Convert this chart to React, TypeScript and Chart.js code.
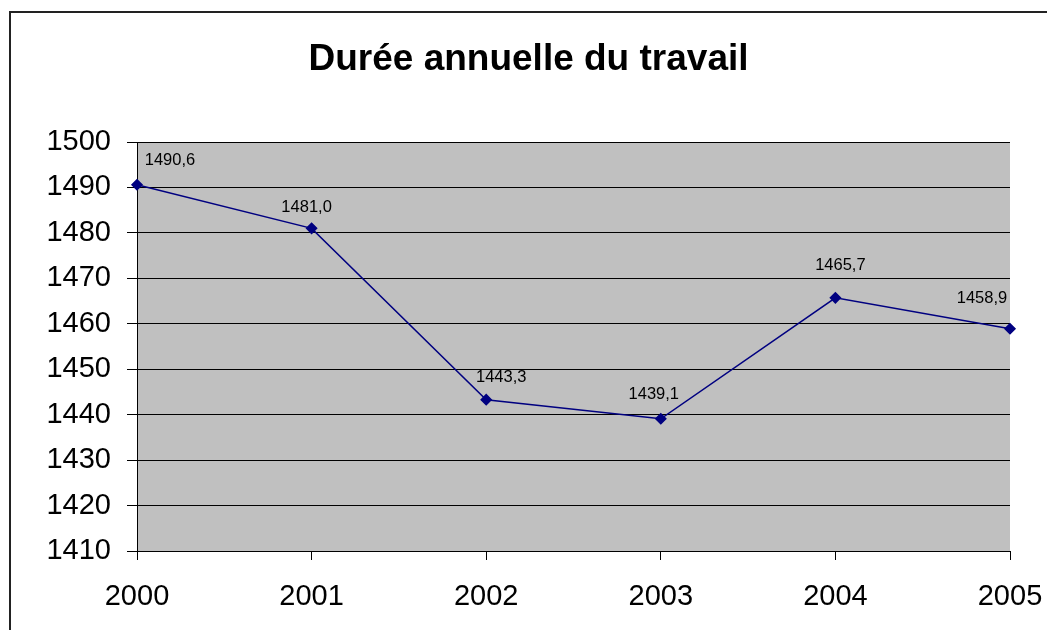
import React, { useEffect, useRef } from "react";
import { Chart, registerables } from "chart.js";

Chart.register(...registerables);

const titleText = "Durée annuelle du travail";
const years = ["2000", "2001", "2002", "2003", "2004", "2005"];
const hours = [1490.6, 1481.0, 1443.3, 1439.1, 1465.7, 1458.9];
const yMin = 1410;
const yMax = 1500;
const yStep = 10;

// label placement offsets (styling), relative to each point
const labelOffsets: [number, number][] = [
  [33, -24],
  [-5, -21],
  [15, -22],
  [-7, -24],
  [5, -32],
  [-28, -30],
];

const fmt = (v: number) => v.toFixed(1).replace(".", ",");

const framePlugin = {
  id: "frame",
  beforeDraw(chart: any) {
    const { ctx, chartArea } = chart;
    ctx.save();
    ctx.fillStyle = "#ffffff";
    ctx.fillRect(0, 0, chart.width, chart.height);
    ctx.fillStyle = "#222222";
    ctx.fillRect(9, 11, 2, chart.height);
    ctx.fillRect(9, 11, chart.width + 10, 2);
    ctx.fillStyle = "#c0c0c0";
    ctx.fillRect(chartArea.left, chartArea.top, chartArea.right - chartArea.left, chartArea.bottom - chartArea.top);
    ctx.fillStyle = "#000000";
    ctx.font = "bold 37px 'Liberation Sans', Arial, sans-serif";
    ctx.textAlign = "center";
    ctx.textBaseline = "alphabetic";
    ctx.fillText(titleText, 528.5, 70);
    ctx.restore();
  },
  afterDatasetsDraw(chart: any) {
    const { ctx } = chart;
    const meta = chart.getDatasetMeta(0);
    ctx.save();
    ctx.fillStyle = "#000000";
    ctx.font = "16.5px 'Liberation Sans', Arial, sans-serif";
    ctx.textAlign = "center";
    ctx.textBaseline = "middle";
    meta.data.forEach((pt: any, i: number) => {
      const [dx, dy] = labelOffsets[i] || [0, -24];
      ctx.fillText(fmt(hours[i]), pt.x + dx, pt.y + dy);
    });
    ctx.restore();
  },
};

export default function App() {
  const ref = useRef<HTMLCanvasElement | null>(null);
  useEffect(() => {
    if (!ref.current) return;
    const chart = new Chart(ref.current, {
      type: "line",
      data: {
        labels: years,
        datasets: [
          {
            data: hours,
            borderColor: "#000080",
            backgroundColor: "#000080",
            borderWidth: 1.5,
            pointStyle: "rectRot",
            pointRadius: 5,
            pointBackgroundColor: "#000080",
            pointBorderColor: "#000080",
            tension: 0,
            clip: false as any,
          },
        ],
      },
      options: {
        animation: false,
        responsive: false,
        maintainAspectRatio: false,
        layout: { padding: { top: 142, right: 37, left: 0, bottom: 0 } },
        plugins: {
          legend: { display: false },
          title: { display: false },
          tooltip: { enabled: false },
        },
        scales: {
          x: {
            type: "category",
            offset: false,
            grid: { drawOnChartArea: false, drawTicks: true, tickLength: 9, color: "#000000" },
            border: { display: true, color: "#000000", width: 1 },
            ticks: {
              color: "#000000",
              padding: 20,
              maxRotation: 0,
              autoSkip: false,
              font: { family: "'Liberation Sans', Arial, sans-serif", size: 29 },
            },
            afterFit: (s: any) => {
              s.height = 79;
              s.paddingLeft = 0;
              s.paddingRight = 0;
            },
          },
          y: {
            min: yMin,
            max: yMax,
            grid: { color: "#000000", tickLength: 10, drawTicks: true },
            border: { display: true, color: "#000000", width: 1 },
            ticks: {
              stepSize: yStep,
              color: "#000000",
              padding: 16,
              callback: (v: any) => String(v),
              font: { family: "'Liberation Sans', Arial, sans-serif", size: 29 },
            },
            afterFit: (s: any) => {
              s.width = 137;
              s.paddingTop = 0;
              s.paddingBottom = 0;
            },
          },
        },
      },
      plugins: [framePlugin],
    });
    return () => chart.destroy();
  }, []);
  return (
    <div style={{ position: "fixed", left: 0, top: 0, width: 1047, height: 630, background: "#fff" }}>
      <canvas ref={ref} width={1047} height={630} style={{ width: 1047, height: 630, display: "block" }} />
    </div>
  );
}
